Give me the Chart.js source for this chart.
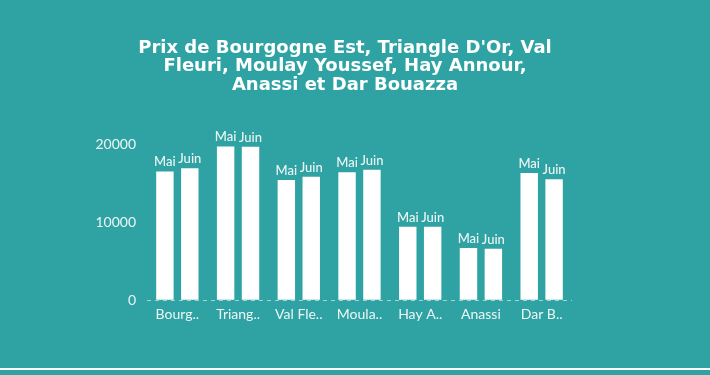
<!DOCTYPE html>
<html>
<head>
<meta charset="utf-8">
<script src="https://cdn.jsdelivr.net/npm/chart.js@4"></script>
<style>
  html, body { margin: 0; padding: 0; background: #2fa3a3; }
  #wrap { position: relative; width: 710px; height: 375px; }
  #line { position: absolute; left: 0; top: 368px; width: 710px; height: 2px; background: #fff; }
</style>
</head>
<body>
<div id="wrap">
  <canvas id="prix-canvas" width="710" height="375"></canvas>
  <div id="line"></div>
</div>
<script>
const categories = ["Bourgogne Est", "Triangle D'Or", "Val Fleuri", "Moulay Youssef", "Hay Annour", "Anassi", "Dar Bouazza"]
const tickLabels = ["Bourg..", "Triang..", "Val Fle..", "Moula..", "Hay A..", "Anassi", "Dar B.."]
const maiValues = [16500, 19700, 15400, 16400, 9400, 6700, 16300]
const juinValues = [16900, 19650, 15800, 16700, 9400, 6600, 15500]
const yTicks = [0, 10000, 20000]

// draws the series name above each bar
const barNames = {
  id: "barNames",
  afterDatasetsDraw(chart) {
    const ctx = chart.ctx
    ctx.save()
    ctx.font = "500 13px Lato"
    ctx.fillStyle = "#eef6f6"
    ctx.textAlign = "center"
    ctx.textBaseline = "alphabetic"
    chart.data.datasets.forEach((ds, i) => {
      chart.getDatasetMeta(i).data.forEach((bar) => {
        ctx.fillText(ds.label, bar.x, bar.y - 5)
      })
    })
    ctx.restore()
  },
}

document.addEventListener("DOMContentLoaded", () => {
  const canvas = document.getElementById("prix-canvas")
  new Chart(canvas, {
    type: "bar",
    data: {
      labels: categories,
      datasets: [
        { label: "Mai", data: maiValues, backgroundColor: "#ffffff" },
        { label: "Juin", data: juinValues, backgroundColor: "#ffffff" },
      ],
    },
    options: {
      responsive: false,
      animation: false,
      categoryPercentage: 0.82,
      barPercentage: 0.7,
      layout: { padding: { left: 0, right: 20, top: 0, bottom: 46 } },
      plugins: {
        legend: { display: false },
        tooltip: { enabled: false },
        title: {
          display: true,
          text: ["Prix de Bourgogne Est, Triangle D'Or, Val", "Fleuri, Moulay Youssef, Hay Annour,", "Anassi et Dar Bouazza"],
          color: "#ffffff",
          font: { family: "DejaVu Sans", size: 18, weight: "bold", lineHeight: 1.02 },
          padding: { top: 39, bottom: 50 },
        },
      },
      scales: {
        x: {
          grid: { display: false, drawTicks: false },
          border: { display: false },
          ticks: {
            color: "#eef6f6",
            font: { family: "Lato", size: 14 },
            padding: 6,
            maxRotation: 0,
            autoSkip: false,
            callback: (v, i) => tickLabels[i],
          },
        },
        y: {
          min: 0,
          max: 20000,
          grid: {
            drawTicks: false,
            color: (c) => (c.tick && c.tick.value === 0 ? "rgba(255,255,255,0.55)" : "rgba(0,0,0,0)"),
          },
          border: { display: false, dash: [4, 4] },
          afterBuildTicks: (s) => { s.ticks = yTicks.map((v) => ({ value: v })) },
          afterFit: (s) => { s.width = 147 },
          ticks: {
            color: "#eef6f6",
            font: { family: "Lato", size: 14 },
            padding: 11,
            callback: (v) => String(v),
          },
        },
        yR: {
          position: "right",
          grid: { display: false, drawTicks: false },
          border: { display: false },
          ticks: { display: false },
          afterFit: (s) => { s.width = 118 },
        },
      },
    },
    plugins: [barNames],
  })
})
</script>
</body>
</html>
